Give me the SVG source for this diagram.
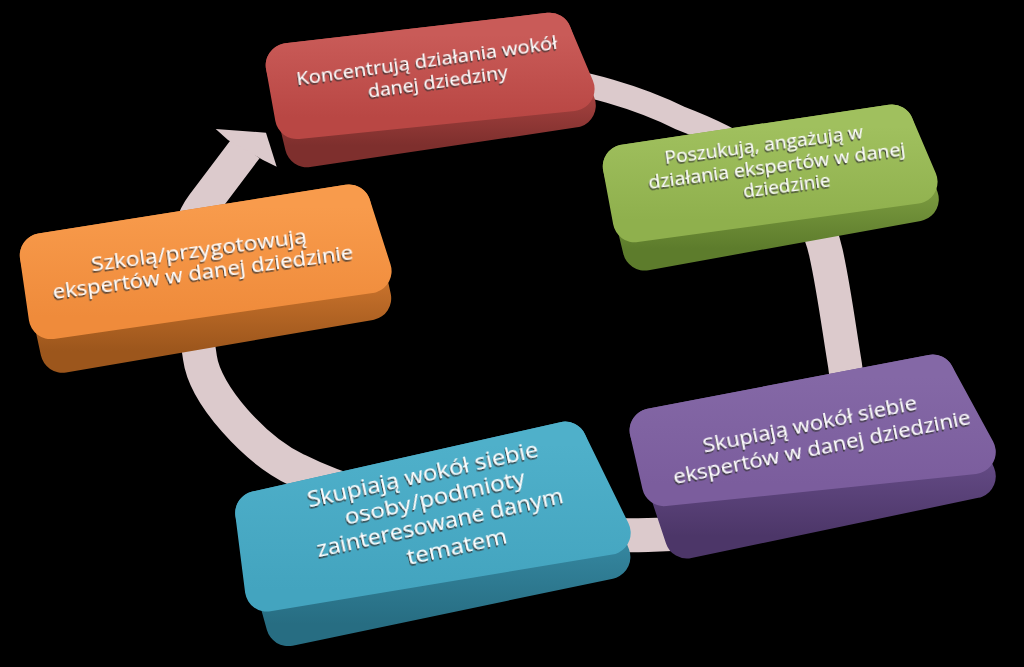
<svg xmlns="http://www.w3.org/2000/svg" width="1024" height="667" viewBox="0 0 1024 667">
<defs>
  <linearGradient id="redF" x1="0" y1="0" x2="0" y2="1"><stop offset="0" stop-color="#c95b58"/><stop offset="1" stop-color="#b94744"/></linearGradient>
  <linearGradient id="redS" x1="0" y1="0" x2="0" y2="1"><stop offset="0.45" stop-color="#ad4643"/><stop offset="1" stop-color="#7e2f2d"/></linearGradient>
  <linearGradient id="grnF" x1="0" y1="0" x2="0" y2="1"><stop offset="0" stop-color="#a0c05e"/><stop offset="1" stop-color="#8fb04d"/></linearGradient>
  <linearGradient id="grnS" x1="0" y1="0" x2="0" y2="1"><stop offset="0.45" stop-color="#80a043"/><stop offset="1" stop-color="#5d7c2c"/></linearGradient>
  <linearGradient id="orgF" x1="0" y1="0" x2="0" y2="1"><stop offset="0" stop-color="#f89b4c"/><stop offset="1" stop-color="#ef8b3b"/></linearGradient>
  <linearGradient id="orgS" x1="0" y1="0" x2="0" y2="1"><stop offset="0.45" stop-color="#cf762e"/><stop offset="1" stop-color="#9c561c"/></linearGradient>
  <linearGradient id="purF" x1="0" y1="0" x2="0" y2="1"><stop offset="0" stop-color="#8468a6"/><stop offset="1" stop-color="#7b5d9d"/></linearGradient>
  <linearGradient id="purS" x1="0" y1="0" x2="0" y2="1"><stop offset="0.45" stop-color="#684e8a"/><stop offset="1" stop-color="#4c3668"/></linearGradient>
  <linearGradient id="tealF" x1="0" y1="0" x2="0" y2="1"><stop offset="0" stop-color="#4fb0ca"/><stop offset="1" stop-color="#43a4bf"/></linearGradient>
  <linearGradient id="tealS" x1="0" y1="0" x2="0" y2="1"><stop offset="0.45" stop-color="#388ca6"/><stop offset="1" stop-color="#276d82"/></linearGradient>
  <filter id="ts" x="-10%" y="-40%" width="120%" height="180%">
    <feDropShadow dx="-1" dy="1.6" stdDeviation="0.4" flood-color="#333333" flood-opacity="0.9"/>
  </filter>
</defs>
<style>
  .slab { stroke-width: 44; stroke-linejoin: round; }
  .ring { fill: none; stroke: #dccacc; }
  text { font-family: "Open Sans", "Liberation Sans", sans-serif; fill: #ffffff; text-anchor: middle; filter: url(#ts); }
</style>
<rect x="0" y="0" width="1024" height="667" fill="#000000"/>

<g id="connectors">
  <path class="ring" stroke-width="24" d="M 540,78 C 580,80 640,98 680,118 C 730,137 770,160 792,190"/>
  <path class="ring" stroke-width="34" d="M 790,185 C 812,208 822,235 826,253 C 834,289 839,329 845,365 C 862,465 758,535 648,535 C 540,538 380,512 297,470 C 255,450 205,395 200,358 C 193,308 173,245 203,205 L 246,148"/>
  <polygon fill="#dccacc" points="228,140 215.7,129 266,132.7 276.7,166.7 263,160"/>
</g>

<g id="node-orange">
  <polygon class="slab" fill="url(#orgS)" stroke="url(#orgS)" points="41.8,255.3 348.9,206.4 369.2,298.3 62.4,350.7"/>
  <polygon class="slab" fill="url(#orgF)" stroke="url(#orgF)" points="41.8,255.3 348.9,206.4 369.6,271.2 50.7,317.1"/>
  <text font-size="20" transform="rotate(-7.6 199 251)" x="199" y="257" textLength="217" lengthAdjust="spacingAndGlyphs">Szkolą/przygotowują</text>
  <text font-size="20" transform="rotate(-7.6 203 272.5)" x="203" y="278.5" textLength="303" lengthAdjust="spacingAndGlyphs">ekspertów w danej dziedzinie</text>
</g>

<g id="node-red">
  <polygon class="slab" fill="url(#redS)" stroke="url(#redS)" points="287.7,65.2 549.7,34.7 573.8,105.6 306.9,145.3"/>
  <polygon class="slab" fill="url(#redF)" stroke="url(#redF)" points="287.7,65.2 549.7,34.7 572.6,89 297,117.1"/>
  <text font-size="18" transform="rotate(-8 427 62)" x="427" y="67.4" textLength="263" lengthAdjust="spacingAndGlyphs">Koncentrują działania wokół</text>
  <text font-size="18" transform="rotate(-8 438 83)" x="438" y="88.4" textLength="141" lengthAdjust="spacingAndGlyphs">danej dziedziny</text>
</g>

<g id="node-green">
  <polygon class="slab" fill="url(#grnS)" stroke="url(#grnS)" points="624.8,166.4 891.9,126.5 916.8,199.3 644.7,248.6"/>
  <polygon class="slab" fill="url(#grnF)" stroke="url(#grnF)" points="624.8,166.4 891.9,126.5 915.6,181.8 634.8,220.3"/>
  <text font-size="18" transform="rotate(-7.5 764 146)" x="764" y="151.4" textLength="200" lengthAdjust="spacingAndGlyphs">Poszukują, angażują w</text>
  <text font-size="18" transform="rotate(-7.5 777 167)" x="777" y="172.4" textLength="259" lengthAdjust="spacingAndGlyphs">działania ekspertów w danej</text>
  <text font-size="18" transform="rotate(-7.5 787 187)" x="787" y="192.4" textLength="88" lengthAdjust="spacingAndGlyphs">dziedzinie</text>
</g>

<g id="node-purple">
  <polygon class="slab" fill="url(#purS)" stroke="url(#purS)" points="651.6,430.4 932.7,376.5 973.8,476.3 686.9,536.5"/>
  <polygon class="slab" fill="url(#purF)" stroke="url(#purF)" points="651.6,430.4 932.7,376.5 973.8,452 663.9,484.2"/>
  <text font-size="20" transform="rotate(-11.5 810 425)" x="810" y="431" textLength="218" lengthAdjust="spacingAndGlyphs">Skupiają wokół siebie</text>
  <text font-size="20" transform="rotate(-11.5 822 448)" x="822" y="454" textLength="303" lengthAdjust="spacingAndGlyphs">ekspertów w danej dziedzinie</text>
</g>

<g id="node-teal">
  <polygon class="slab" fill="url(#tealS)" stroke="url(#tealS)" points="257.2,513 565.1,443.6 608.4,557.1 288.1,624.1"/>
  <polygon class="slab" fill="url(#tealF)" stroke="url(#tealF)" points="257.2,513 565.1,443.6 608.7,532.9 266.9,589.5"/>
  <text font-size="21.5" transform="rotate(-12.5 423 475)" x="423" y="481.5" textLength="236" lengthAdjust="spacingAndGlyphs">Skupiają wokół siebie</text>
  <text font-size="21.5" transform="rotate(-12.5 435 499)" x="435" y="505.5" textLength="184" lengthAdjust="spacingAndGlyphs">osoby/podmioty</text>
  <text font-size="21.5" transform="rotate(-12.5 440 523)" x="440" y="529.5" textLength="252" lengthAdjust="spacingAndGlyphs">zainteresowane danym</text>
  <text font-size="21.5" transform="rotate(-12.5 457 547)" x="457" y="553.5" textLength="102" lengthAdjust="spacingAndGlyphs">tematem</text>
</g>
</svg>
